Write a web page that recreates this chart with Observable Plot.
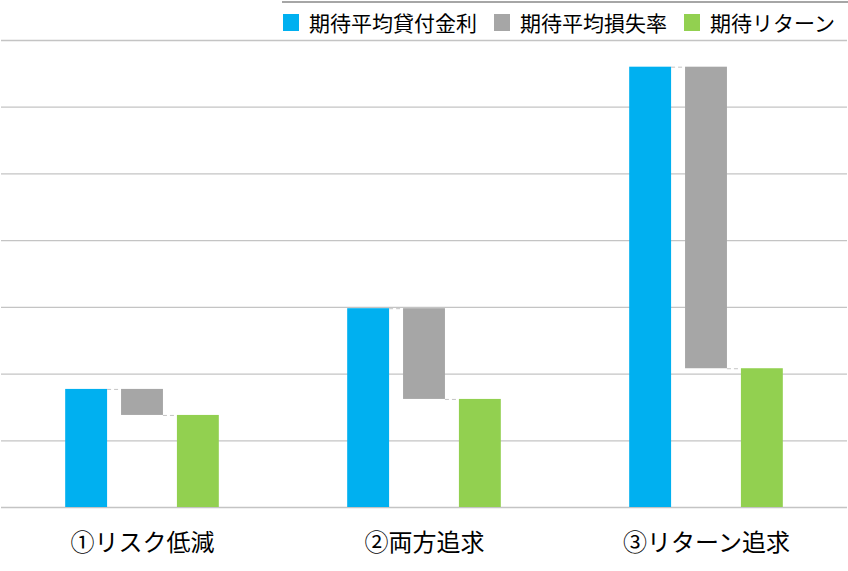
<!DOCTYPE html>
<html><head><meta charset="utf-8">
<script src="https://cdn.jsdelivr.net/npm/d3@7"></script>
<script src="https://cdn.jsdelivr.net/npm/@observablehq/plot@0.6"></script>
<style>
body{margin:0;background:#fff;font-family:"Noto Sans CJK JP",sans-serif;}
#wrap{width:848px;}
#legend{position:relative;height:34px;width:848px;}
#legend .topline{position:absolute;left:282px;right:0;top:1px;height:0;border-top:2px solid #a6a6a6;}
#legend .items{position:absolute;left:283px;top:8px;display:flex;align-items:center;gap:17px;}
#legend .item{display:flex;align-items:center;gap:10px;font-size:21px;line-height:28px;color:#000;}
#legend .sw{width:16px;height:17px;}
</style></head><body><div id="wrap"><div id="legend"><div class="topline"></div><div class="items"></div></div><div id="chart"></div></div>
<script>
const groups = ["①リスク低減", "②両方追求", "③リターン追求"];
const seriesNames = ["期待平均貸付金利", "期待平均損失率", "期待リターン"];
const seriesColors = ["#00b0f0", "#a6a6a6", "#92d050"];
const lendingRate = [1.77, 2.98, 6.6];
const lossRate = [0.39, 1.36, 4.52];
const expectedReturn = [1.38, 1.62, 2.08];
const gridTicks = [0, 1, 2, 3, 4, 5, 6, 7];

// legend
const items = document.querySelector("#legend .items");
seriesNames.forEach((name, i) => {
  const it = document.createElement("div");
  it.className = "item";
  const sw = document.createElement("div");
  sw.className = "sw";
  sw.style.background = seriesColors[i];
  const tx = document.createElement("span");
  tx.textContent = name;
  it.appendChild(sw); it.appendChild(tx);
  items.appendChild(it);
});

const rows = [];
const connectors = [];
groups.forEach((g, i) => {
  rows.push({group: g, series: seriesNames[0], pos: 0, y1: 0, y2: lendingRate[i]});
  rows.push({group: g, series: seriesNames[1], pos: 1, y1: lendingRate[i] - lossRate[i], y2: lendingRate[i]});
  rows.push({group: g, series: seriesNames[2], pos: 2, y1: 0, y2: expectedReturn[i]});
  connectors.push({group: g, from: 0, y: lendingRate[i]});
  connectors.push({group: g, from: 1, y: lendingRate[i] - lossRate[i]});
});
const half = 0.375;

const chart = Plot.plot({
  width: 848, height: 537,
  marginTop: 6, marginBottom: 64, marginLeft: 0, marginRight: 0,
  style: {fontFamily: "'Noto Sans CJK JP', sans-serif", background: "#fff"},
  fx: {domain: groups, padding: 0, label: null},
  x: {domain: [-1.524, 3.524], axis: null},
  y: {domain: [0, 7], axis: null},
  color: {domain: seriesNames, range: seriesColors},
  marks: [
    Plot.ruleY(gridTicks, {stroke: "#c4c4c4", strokeWidth: 1.3}),
    Plot.rect(rows, {fx: "group", x1: d => d.pos - half, x2: d => d.pos + half, y1: "y1", y2: "y2", fill: "series"}),
    Plot.ruleY(connectors, {fx: "group", x1: d => d.from + half, x2: d => d.from + 1 - half, y: "y", stroke: "#c4c4c4", strokeWidth: 1, strokeDasharray: "4,3"}),
    Plot.axisFx({anchor: "bottom", tickSize: 0, tickPadding: 26, fontSize: 24, label: null, fill: "#000"})
  ]
});
document.getElementById("chart").appendChild(chart);
</script></body></html>
